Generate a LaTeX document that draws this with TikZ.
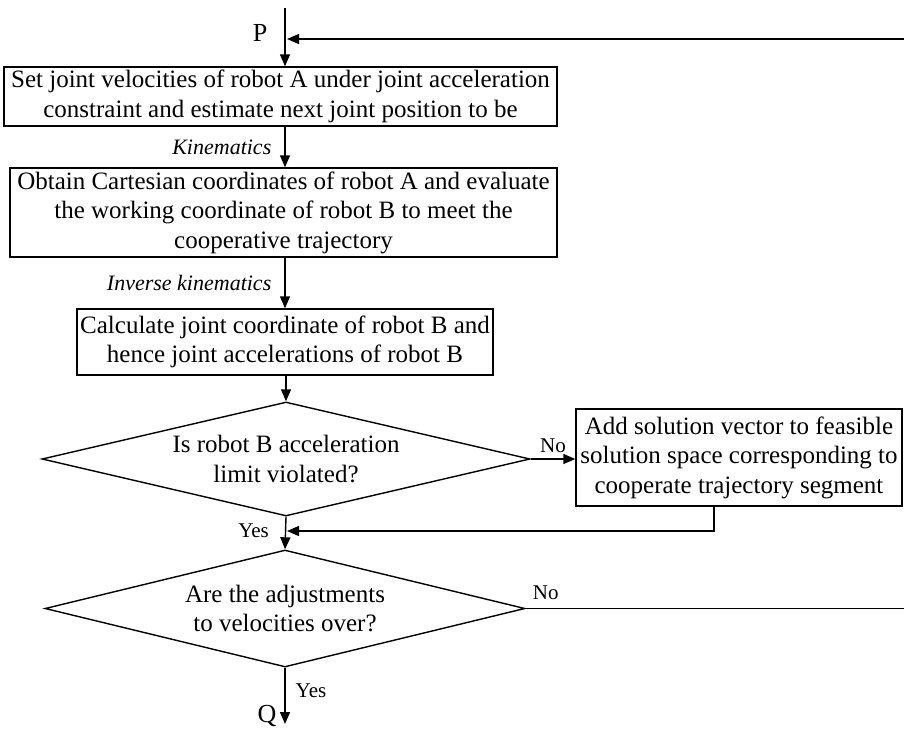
\documentclass[tikz,border=0pt]{standalone}
\usepackage{fontspec}
\setmainfont{Liberation Serif}
\usetikzlibrary{arrows.meta,shapes.geometric}
\begin{document}
\begin{tikzpicture}[x=1pt,y=-1pt,
  every node/.style={inner sep=0pt},
  body/.style={font=\fontsize{25}{29.5}\selectfont},
  proc/.style={draw, line width=1.4pt, align=center, body},
  decision/.style={draw, diamond, line width=1.4pt},
  flow/.style={line width=1.4pt, -{Triangle[length=12pt,width=10pt]}},
  plain/.style={line width=1.4pt},
  note/.style={font=\fontsize{22}{26}\selectfont\itshape},
  answer/.style={font=\fontsize{21}{25}\selectfont},
  term/.style={font=\fontsize{26}{30}\selectfont}]
\useasboundingbox (0,0) rectangle (904,731);

% process boxes
\node[proc, minimum width=553pt, minimum height=59pt] (b1) at (280.5,96.5)
  {Set joint velocities of robot A under joint acceleration\\constraint and estimate next joint position to be};
\node[proc, minimum width=547pt, minimum height=89pt] (b2) at (283.5,212.5)
  {Obtain Cartesian coordinates of robot A and evaluate\\the working coordinate of robot B to meet the\\cooperative trajectory};
\node[proc, minimum width=416pt, minimum height=66pt] (b3) at (285,342)
  {Calculate joint coordinate of robot B and\\hence joint accelerations of robot B};
\node[proc, minimum width=326pt, minimum height=97pt] (b4) at (739,457.5)
  {Add solution vector to feasible\\solution space corresponding to\\cooperate trajectory segment};

% decisions
\node[decision, minimum width=488pt, minimum height=114pt,
  label={[align=center, body]center:Is robot B acceleration\\limit violated?}] (d1) at (286,459) {};
\node[decision, minimum width=480pt, minimum height=117pt,
  label={[align=center, body]center:Are the adjustments\\to velocities over?}] (d2) at (285,608.5) {};

% terminals and junctions
\node[term] (P) at (260,33) {P};
\node[term] (Q) at (267,716) {Q};
\coordinate (top) at (285,8);
\coordinate (fbin) at (904,39);
\coordinate (junP) at (287,39);
\coordinate (merge) at (287,531);
\coordinate (loopout) at (904,608.5);
\coordinate (qend) at (285,724);

% main flow
\draw[flow] (top) -- (top |- b1.north);
\draw[flow] (fbin) -- (junP);
\draw[flow] (b1.south -| top) -- (b2.north -| top)
  node[note, midway, left=13pt] {Kinematics};
\draw[flow] (b2.south -| top) -- (b3.north -| top)
  node[note, midway, left=13pt] {Inverse kinematics};
\draw[flow] (b3.south -| d1.north) -- (d1.north);
\draw[flow] (d1.east) -- (d1.east -| b4.west)
  node[answer, midway, above=6pt] {No};
\draw[flow] (d1.south) -- (d2.north)
  node[answer, pos=0.42, left=16pt] {Yes};
\draw[flow] ([xshift=-25pt]b4.south) |- (merge);
\draw[plain] (d2.east) -- (loopout)
  node[answer, pos=0.053, above=8pt] {No};
\draw[flow] (d2.south) -- (qend)
  node[answer, pos=0.4, right=10pt] {Yes};
\end{tikzpicture}
\end{document}
